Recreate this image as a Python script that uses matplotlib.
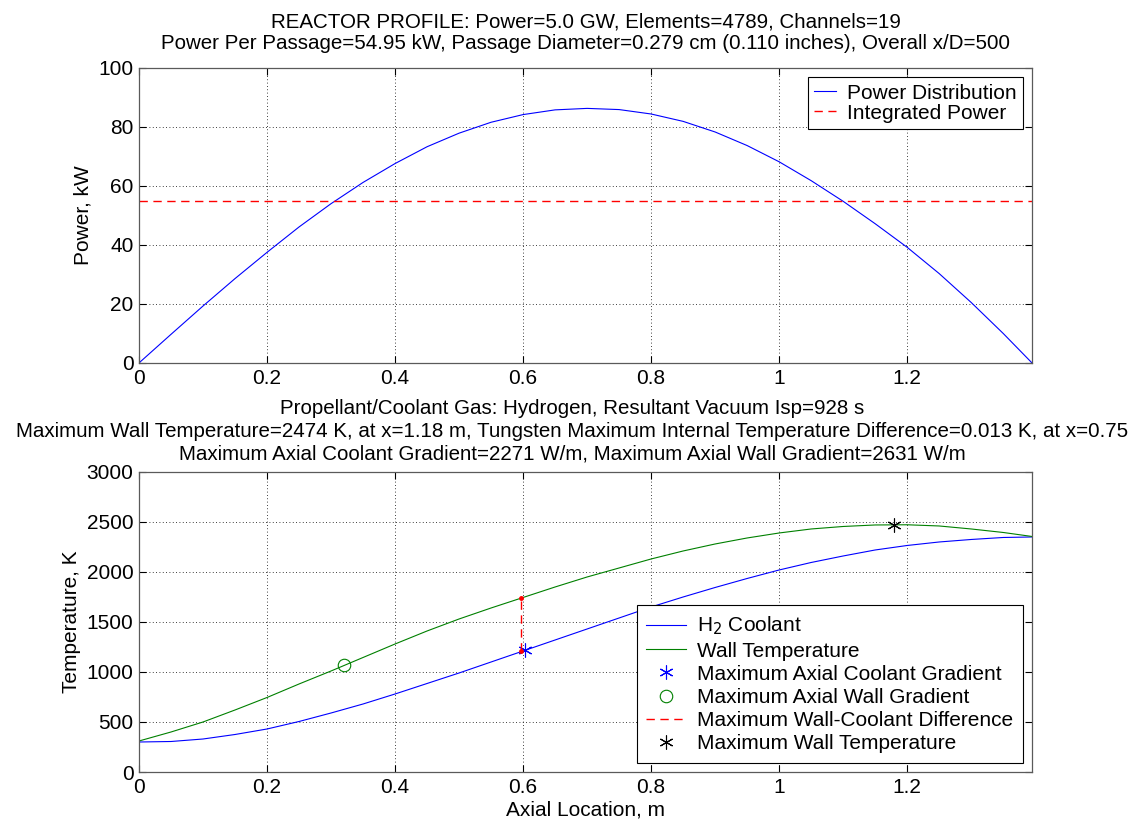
import matplotlib
matplotlib.use("Agg")
import matplotlib.pyplot as plt
import matplotlib.lines as mlines

plt.rcParams['font.family'] = ['Liberation Sans', 'DejaVu Sans']
FS = 15
FS_T = 14.8

# ---- data ----
L = 1.395
x_pts = [0.0, 0.05, 0.10, 0.15, 0.20, 0.25, 0.30, 0.35, 0.40, 0.45, 0.50, 0.55, 0.60, 0.65,
         0.70, 0.75, 0.80, 0.85, 0.90, 0.95, 1.00, 1.05, 1.10, 1.15, 1.20, 1.25, 1.30, 1.35, 1.395]
power_kw = [0.0, 9.7, 19.3, 28.6, 37.5, 46.1, 54.0, 61.2, 67.6, 73.3, 77.9, 81.6, 84.2, 85.8,
            86.3, 85.9, 84.4, 81.9, 78.3, 73.7, 68.2, 61.8, 54.8, 47.2, 39.2, 30.3, 20.5, 10.0, 0.0]
integrated_power = 54.95
coolant_T = [300, 305, 330, 375, 430, 505, 590, 680, 780, 885, 990, 1100, 1210, 1320,
             1430, 1540, 1650, 1750, 1845, 1935, 2020, 2095, 2160, 2220, 2265, 2300, 2325, 2345, 2350]
wall_T = [310, 400, 500, 620, 745, 880, 1010, 1145, 1280, 1410, 1530, 1640, 1745, 1850,
          1950, 2040, 2130, 2210, 2280, 2340, 2390, 2430, 2455, 2470, 2472, 2460, 2430, 2395, 2355]
max_cool_grad = (0.603, 1220)
max_wall_grad = (0.32, 1070)
max_diff_x = 0.597
max_diff_T = (1210, 1742)
max_wall = (1.18, 2474)

xticks = [0, 0.2, 0.4, 0.6, 0.8, 1.0, 1.2]
xticklabels = ['0', '0.2', '0.4', '0.6', '0.8', '1', '1.2']

fig = plt.figure(figsize=(11.41, 8.27), dpi=100)
ax1 = fig.add_axes([0.1218, 0.5611, 0.9045 - 0.1218, 0.9178 - 0.5611])
ax2 = fig.add_axes([0.1218, 0.0665, 0.9045 - 0.1218, 0.4293 - 0.0665])

def style(ax):
    ax.grid(True, color='black', linestyle=(0, (1, 3)), linewidth=0.6)
    ax.tick_params(direction='in', top=True, right=True, length=5, width=0.8,
                   labelsize=FS, colors='black', pad=4)
    for s in ax.spines.values():
        s.set_color('#5a5a5a')
        s.set_linewidth(0.9)
    ax.set_xlim(0, L)
    ax.set_xticks(xticks)
    ax.set_xticklabels(xticklabels)

DASH = (0, (6, 4))
ax1.plot(x_pts, power_kw, color='blue', linewidth=0.8, label='Power Distribution')
ax1.plot([0, L], [integrated_power, integrated_power], color='red', linestyle=DASH,
         linewidth=1.0, label='Integrated Power')
style(ax1)
ax1.set_ylim(0, 100)
ax1.set_yticks([0, 20, 40, 60, 80, 100])
ax1.set_ylabel('Power, kW', fontsize=FS)
ax1.set_title('REACTOR PROFILE: Power=5.0 GW, Elements=4789, Channels=19\n'
              'Power Per Passage=54.95 kW, Passage Diameter=0.279 cm (0.110 inches), Overall x/D=500',
              fontsize=FS_T, linespacing=1.12, pad=14)
leg1 = ax1.legend(loc='upper right', fontsize=FS, fancybox=False, framealpha=1,
                  edgecolor='black', borderaxespad=0.45, handlelength=1.05,
                  borderpad=0.3, labelspacing=0.05, handletextpad=0.5)
leg1.get_frame().set_linewidth(0.8)

ax2.plot(x_pts, coolant_T, color='blue', linewidth=0.8, label='H$_2$ Coolant')
ax2.plot(x_pts, wall_T, color='green', linewidth=0.8, label='Wall Temperature')
ast = (6, 2, 0)
ax2.plot([max_cool_grad[0]], [max_cool_grad[1]], linestyle='none', marker=ast, color='blue',
         markersize=10, markeredgewidth=0.8, label='Maximum Axial Coolant Gradient')
ax2.plot([max_wall_grad[0]], [max_wall_grad[1]], linestyle='none', marker='o', markerfacecolor='none',
         markeredgecolor='green', markersize=9, markeredgewidth=0.8, label='Maximum Axial Wall Gradient')
ax2.plot([max_diff_x, max_diff_x], list(max_diff_T), color='red', linestyle=DASH, linewidth=1.0,
         marker='.', markersize=5, label='Maximum Wall-Coolant Difference')
ax2.plot([max_wall[0]], [max_wall[1]], linestyle='none', marker=ast, color='black',
         markersize=10, markeredgewidth=0.8, label='Maximum Wall Temperature')
style(ax2)
ax2.set_ylim(0, 3000)
ax2.set_yticks([0, 500, 1000, 1500, 2000, 2500, 3000])
ax2.set_ylabel('Temperature, K', fontsize=FS)
ax2.set_xlabel('Axial Location, m', fontsize=FS, labelpad=3)
ax2.set_title('Propellant/Coolant Gas: Hydrogen, Resultant Vacuum Isp=928 s\n'
              'Maximum Wall Temperature=2474 K, at x=1.18 m, Tungsten Maximum Internal Temperature Difference=0.013 K, at x=0.75\n'
              'Maximum Axial Coolant Gradient=2271 W/m, Maximum Axial Wall Gradient=2631 W/m',
              fontsize=FS_T, linespacing=1.25, pad=9, x=0.485)

handles, labels = ax2.get_legend_handles_labels()
handles[4] = mlines.Line2D([], [], color='red', linestyle=DASH, linewidth=1.0)
leg2 = ax2.legend(handles, labels, loc='lower right', fontsize=FS, fancybox=False, framealpha=1,
                  edgecolor='black', borderaxespad=0.45, handlelength=1.9,
                  borderpad=0.45, labelspacing=0.2, handletextpad=0.55)
leg2.get_frame().set_linewidth(0.8)

fig.savefig('out.png', dpi=100)
